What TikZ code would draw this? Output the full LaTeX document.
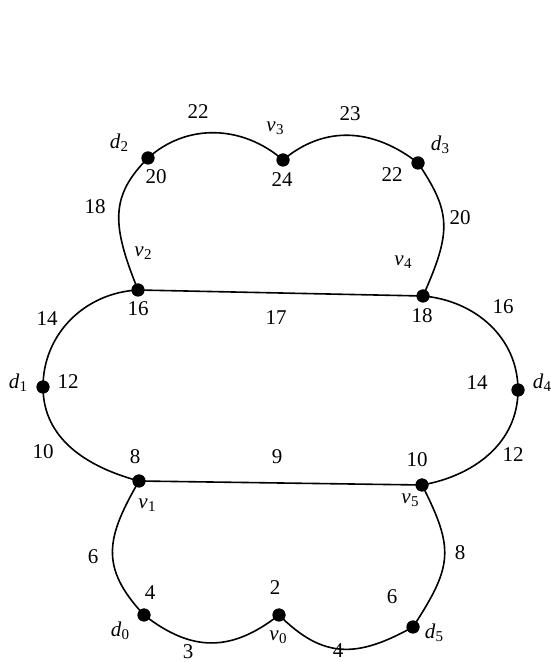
\documentclass[tikz,border=0pt]{standalone}
\usepackage{fontspec}
\setmainfont{Liberation Serif}
\newcommand\sublab[2]{\textit{#1}\kern0.3pt\raisebox{-0.35ex}{\fontsize{15}{15}\selectfont #2}}
\begin{document}
\begin{tikzpicture}[x=1pt,y=1pt,
  dot/.style={circle,fill=black,inner sep=0pt,minimum size=13pt},
  lab/.style={inner sep=0pt,font=\fontsize{21}{24}\selectfont},
  curve/.style={line width=1.6pt,black}]
\useasboundingbox (0,0) rectangle (550,662);
% vertices
\node[dot] (v2) at (138,372) {};
\node[dot] (v4) at (423,366) {};
\node[dot] (v1) at (139,181) {};
\node[dot] (v5) at (422,177) {};
\node[dot] (d1) at (43,275) {};
\node[dot] (d4) at (518,272) {};
\node[dot] (d2) at (148,504) {};
\node[dot] (v3) at (283,502) {};
\node[dot] (d3) at (418,499) {};
\node[dot] (d0) at (144,47) {};
\node[dot] (v0) at (279,47) {};
\node[dot] (d5) at (413,35) {};
% edges
\draw[curve] (v2.center) to[out=112,in=225,out looseness=1.35,in looseness=1.05] (d2.center);
\draw[curve] (d2.center) to[out=42,in=139] (v3.center);
\draw[curve] (v3.center) to[out=40,in=142,looseness=1.05] (d3.center);
\draw[curve] (d3.center) to[out=-56,in=66,out looseness=1.15,in looseness=1.35] (v4.center);
\draw[curve] (v2.center) -- (v4.center);
\draw[curve] (v1.center) -- (v5.center);
\draw[curve] (v2.center) to[out=183,in=90] (d1.center);
\draw[curve] (d1.center) to[out=-90,in=165] (v1.center);
\draw[curve] (v4.center) to[out=-5,in=90] (d4.center);
\draw[curve] (d4.center) to[out=-90,in=10] (v5.center);
\draw[curve] (v1.center) to[out=240,in=133,looseness=1.25] (d0.center);
\draw[curve] (d0.center) to[out=-38,in=218,looseness=1.15] (v0.center);
\draw[curve] (v0.center) to[out=-45,in=209,looseness=1.2] (d5.center);
\draw[curve] (d5.center) to[out=57,in=-63,looseness=1.3] (v5.center);
% dots on top
\foreach \n in {v0,v1,v2,v3,v4,v5,d0,d1,d2,d3,d4,d5}
  \fill (\n.center) circle (6.5pt);
% vertex labels
\node[lab] (lv3) at (275,534) {\sublab{v}{3}};
\node[lab] (ld2) at (119,519) {\sublab{d}{2}};
\node[lab] (ld3) at (440,517) {\sublab{d}{3}};
\node[lab] (lv2) at (143,409) {\sublab{v}{2}};
\node[lab] (lv4) at (403,400) {\sublab{v}{4}};
\node[lab] (ld1) at (18,279) {\sublab{d}{1}};
\node[lab] (ld4) at (542,279) {\sublab{d}{4}};
\node[lab] (lv1) at (147,157) {\sublab{v}{1}};
\node[lab] (lv5) at (410,162) {\sublab{v}{5}};
\node[lab] (ld0) at (120,31) {\sublab{d}{0}};
\node[lab] (lv0) at (278,25) {\sublab{v}{0}};
\node[lab] (ld5) at (434,29) {\sublab{d}{5}};
% numbers
\node[lab] (n1) at (198,550) {22};
\node[lab] (n2) at (350,548) {23};
\node[lab] (n3) at (156,485) {20};
\node[lab] (n4) at (282,482) {24};
\node[lab] (n5) at (392,487) {22};
\node[lab] (n6) at (95,455) {18};
\node[lab] (n7) at (460,444) {20};
\node[lab] (n8) at (47,343) {14};
\node[lab] (n9) at (138,353) {16};
\node[lab] (n10) at (276,344) {17};
\node[lab] (n11) at (422,346) {18};
\node[lab] (n12) at (503,355) {16};
\node[lab] (n13) at (68,280) {12};
\node[lab] (n14) at (477,279) {14};
\node[lab] (n15) at (43,210) {10};
\node[lab] (n16) at (135,205) {8};
\node[lab] (n17) at (277,205) {9};
\node[lab] (n18) at (417,202) {10};
\node[lab] (n19) at (513,207) {12};
\node[lab] (n20) at (93,105) {6};
\node[lab] (n21) at (460,109) {8};
\node[lab] (n22) at (150,69) {4};
\node[lab] (n23) at (275,74) {2};
\node[lab] (n24) at (392,65) {6};
\node[lab] (n25) at (188,10) {3};
\node[lab] (n26) at (338,11) {4};
\end{tikzpicture}
\end{document}
